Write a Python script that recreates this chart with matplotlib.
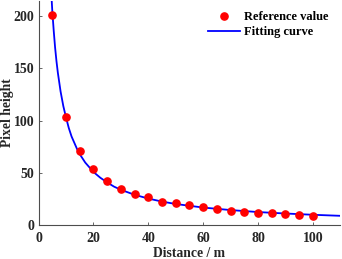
import numpy as np
import matplotlib
matplotlib.use("Agg")
import matplotlib.pyplot as plt

matplotlib.rcParams.update({
    "font.family": "serif",
    "font.serif": ["Liberation Serif", "DejaVu Serif"],
    "font.weight": "bold",
    "font.size": 9,
})

# measured reference points
dist_ref   = [5, 10, 15, 20, 25, 30, 35, 40, 45, 50, 55, 60, 65, 70, 75, 80, 85, 90, 95, 100]
height_ref = [201, 104, 71, 54, 42, 35, 30, 27, 22.5, 21, 19, 17.5, 16, 14, 13, 12, 12, 11, 10.2, 9.4]

# fitting curve
dist_fit   = [4.0, 4.5, 5, 5.5, 6, 6.5, 7, 8, 9, 10, 11, 12, 13, 14, 15, 17, 20,
              22.5, 25, 27.5, 30, 35, 40, 45, 50, 60, 70, 80, 90, 100, 110]
height_fit = [255, 227, 204, 186, 170, 157, 146, 128, 114, 103, 93, 85, 79, 73, 68,
              60, 51, 45.5, 41, 37, 34, 29.2, 25.6, 22.7, 20.4, 17, 14.6, 12.7, 11.3, 10.1, 9.1]

axis_col = "#4d4d4d"

fig = plt.figure(figsize=(3.42, 2.59), dpi=100)
ax = fig.add_axes([0.113, 0.13, 0.882, 0.868])

ax.plot(dist_ref, height_ref, lw=0, marker="o", markersize=5.2, color="red",
        label="Reference value", zorder=3)
ax.plot(dist_fit, height_fit, lw=1.3, color="blue", label="Fitting curve", zorder=2)

ax.set_xlim(0, 110)
ax.set_ylim(0, 215)
ax.set_xticks(np.arange(0, 101, 20))
ax.set_yticks(np.arange(0, 201, 50))
for s in ["top", "right"]:
    ax.spines[s].set_visible(False)
for s in ["left", "bottom"]:
    ax.spines[s].set_color(axis_col)
    ax.spines[s].set_linewidth(0.8)
ax.tick_params(direction="in", length=2.5, width=0.6, colors=axis_col,
               labelcolor="#262626", labelsize=10)
ax.tick_params(axis="x", pad=5)
ax.tick_params(axis="y", pad=3)
for lbl in ax.get_xticklabels() + ax.get_yticklabels():
    lbl.set_fontweight("bold")

ax.set_xlabel("Distance / m", fontsize=9.8, fontweight="bold", color="#262626", labelpad=1)
ax.set_ylabel("Pixel height", fontsize=9.8, fontweight="bold", color="#262626")
ax.yaxis.set_label_coords(-0.082, 0.5)

leg = ax.legend(loc="upper right", bbox_to_anchor=(0.985, 0.985), frameon=False,
                fontsize=9, handlelength=2.6, handletextpad=0.3, labelspacing=0.2,
                borderaxespad=0.2)
for t in leg.get_texts():
    t.set_fontweight("bold")

fig.savefig("out.png", dpi=100)
